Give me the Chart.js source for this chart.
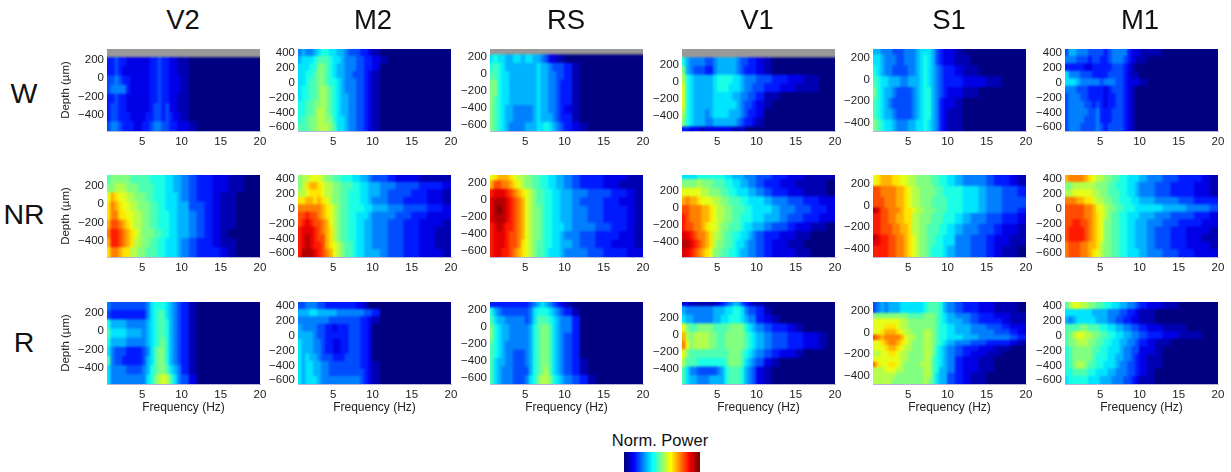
<!DOCTYPE html>
<html lang="en">
<head>
<meta charset="UTF-8">
<title>Norm. Power by depth and frequency</title>
<script src="https://cdn.jsdelivr.net/npm/chart.js"></script>
<style>
    html, body { margin: 0; padding: 0; background: #fff; }
    body { position: relative; width: 1231px; height: 472px; overflow: hidden; font-family: "Liberation Sans", Arial, sans-serif; color: #111; }
    canvas { position: absolute; }
    .lbl { position: absolute; transform: translate(-50%, -50%); white-space: nowrap; }
    .head { font-size: 27.5px; }
    .side { font-size: 28.5px; }
    .bar { font-size: 16.5px; }
</style>
</head>
<body>
<script>
// column edges of the spectrograms (Hz): half Hz steps up to 10, then 1 Hz
const freqEdges = [0.5,1,1.5,2,2.5,3,3.5,4,4.5,5,5.5,6,6.5,7,7.5,8,8.5,9,9.5,10,11,12,13,14,15,16,17,18,19,20];
const freqTicks = [5,10,15,20];
const areas = ['V2','M2','RS','V1','S1','M1'];
const states = ['W','NR','R'];

// power levels 0-20, rows go top to bottom, missing columns are 0, null = no recording
const v2W = [
 null,
 [3,3,4,3,3,2,2,2,2,2,2,3,3,4,3,3,2,2,1,1],
 [3,3,4,3,2,2,2,2,2,2,2,3,3,4,3,3,2,2,1,1],
 [4,4,5,4,3,3,2,2,2,2,2,3,3,4,3,3,2,2,2,1],
 [4,5,5,5,5,3,2,2,2,2,2,3,3,4,3,3,2,2,2,1],
 [3,3,4,3,3,2,2,2,2,2,2,3,3,4,3,3,2,2,1,1],
 [3,4,4,3,3,2,2,2,2,2,2,3,4,4,3,4,2,2,1,1],
 [3,4,4,3,3,3,2,2,2,2,3,3,4,4,3,4,3,2,2,1],
 [4,5,5,4,3,3,3,2,2,3,3,4,5,5,4,4,3,3,2,2,1]
];
const m2W = [
 [5,6,5,5,6,7,8,8,7,7,6,6,5,4,4,4,3,3,2,1],
 [6,7,7,7,8,9,9,9,8,7,7,6,5,5,5,4,4,3,3,2,1],
 [7,7,7,8,8,10,10,9,8,7,6,6,5,5,5,4,4,3,3,2],
 [7,7,8,8,9,10,10,9,8,7,6,6,5,5,4,4,4,3,2,1],
 [7,7,8,9,9,10,10,9,8,8,7,6,5,5,5,4,4,3,2,1],
 [7,8,8,9,9,10,11,10,9,8,7,6,5,5,5,4,4,3,2,1],
 [7,8,8,9,9,10,11,10,9,8,7,6,6,5,5,4,4,3,2,1],
 [8,8,9,9,10,10,11,10,9,8,7,6,6,5,5,4,4,3,2,1],
 [8,8,9,9,10,11,11,10,9,8,7,6,6,5,5,4,4,3,2,1],
 [8,9,9,10,10,11,11,10,10,8,7,7,6,5,5,4,4,3,2,1],
 [9,9,9,10,10,11,11,11,10,9,7,7,6,5,5,4,4,3,2,1]
];
const rsW = [
 null,
 [7,8,7,7,6,6,7,7,6,7,7,6,6,5,4,2,2,1,1],
 [8,9,8,7,6,6,6,6,6,6,6,6,7,6,6,5,4,4,4,3,1],
 [9,9,8,7,7,6,6,6,6,6,6,6,7,6,6,5,5,4,4,3,1],
 [10,10,8,7,7,6,6,6,6,6,6,6,7,6,6,5,5,4,3,3,1],
 [10,10,8,7,7,6,6,6,6,6,6,6,7,6,6,5,5,4,3,3,1],
 [10,9,8,7,7,6,6,6,6,6,6,6,7,6,6,5,5,4,3,3,1],
 [10,9,8,7,6,6,5,5,5,5,5,6,7,6,6,5,5,4,3,2,1],
 [10,9,8,7,6,6,5,5,5,5,5,6,7,6,6,6,5,4,3,3,1],
 [10,9,8,7,6,5,5,5,5,6,6,6,7,7,8,7,6,5,4,3,2,1]
];
const v1W = [
 null,
 [8,6,5,5,5,5,4,4,5,6,6,6,6,6,5,4,4,3,3,2,1],
 [10,6,5,4,4,4,3,3,5,6,6,6,6,6,5,4,3,3,3,2,1],
 [11,8,7,6,6,6,6,6,7,8,8,8,8,7,7,6,5,5,5,4,4,3,3,2,2,1,1],
 [12,8,7,6,6,6,6,6,7,8,8,8,7,7,7,6,5,5,4,4,3,3,2,2,1,1,1],
 [12,8,7,6,6,6,6,6,7,7,7,7,7,6,6,5,5,4,4,3,1,1],
 [12,8,7,6,6,6,6,6,7,7,7,7,7,7,6,5,4,4,3,2,1],
 [11,8,7,6,6,6,5,6,7,7,7,7,6,6,6,5,4,3,3,2],
 [10,8,7,6,6,6,5,5,6,6,6,6,6,6,5,4,3,3,2,1],
 [3,3,2,2,2,1,2,2,2,2,2,2,2,1,1,2]
];
const s1W = [
 [6,6,5,5,5,4,4,4,5,5,5,6,7,7,7,6,4,3,2,2,1],
 [7,7,6,5,5,5,4,4,5,5,5,6,7,8,7,6,4,3,2,2,1,1],
 [8,7,6,5,5,4,4,4,4,5,5,6,7,8,7,6,5,4,3,3,2,1,1],
 [9,8,7,7,6,6,6,5,5,6,6,6,7,8,7,6,5,4,3,3,3,2,2,2,1,1],
 [10,8,7,6,6,5,4,4,4,4,5,6,7,8,8,6,5,4,3,2,2,1,1],
 [9,8,7,6,5,4,4,4,4,4,5,6,7,8,8,6,5,3,2,2,1],
 [9,8,7,6,6,5,4,4,4,4,5,6,7,8,8,6,5,3,2,1,1],
 [10,9,8,7,7,6,5,5,5,6,6,7,7,8,7,6,5,3,2,1,1]
];
const m1W = [
 [4,6,6,5,5,5,4,4,4,4,3,4,5,5,5,5,3,2,2,1,1,1],
 [5,5,5,4,4,4,3,4,4,3,3,4,5,5,5,4,3,2,1,1],
 [3,3,3,3,3,2,2,3,3,3,3,3,4,4,4,3,2,1],
 [7,5,5,5,4,4,4,3,3,3,3,4,4,4,4,3,2,1,1],
 [7,7,7,6,5,5,5,5,5,4,5,5,5,4,4,3,2,2,2,1],
 [5,5,5,4,4,4,3,3,3,3,2,3,4,4,4,3,2,1],
 [4,5,5,5,4,4,3,3,3,3,2,3,3,4,4,3,2,1],
 [4,5,5,5,5,4,4,3,4,3,2,3,3,4,4,3,2,1],
 [4,5,5,5,5,5,4,4,5,3,3,3,4,4,4,3,2,1],
 [4,5,5,5,5,4,4,4,5,3,3,3,4,4,4,3,2,1],
 [4,5,5,5,4,4,4,4,5,4,3,4,4,4,4,3,2,1]
];

const v2NR = [
 [9,10,10,10,10,10,9,9,9,9,9,8,8,8,8,7,7,6,6,5,4,3,3,2,2,1,1],
 [10,10,11,11,11,10,10,10,9,9,9,9,8,8,8,7,7,6,6,5,4,3,3,2,2,1,1],
 [12,14,13,12,12,11,11,10,10,10,9,9,8,8,8,7,7,7,6,5,4,3,3,2,1,1],
 [13,15,14,13,12,12,11,11,10,10,10,9,9,8,8,7,7,7,6,6,4,4,3,2,1,1],
 [13,15,15,13,13,12,12,11,11,10,10,9,9,8,8,8,7,7,6,6,5,4,3,2,1,1],
 [14,16,16,15,14,13,12,11,11,10,10,9,9,8,8,8,7,7,6,6,5,4,3,2,1,1],
 [15,17,17,16,15,14,13,12,11,10,10,10,9,9,8,8,7,7,6,6,5,4,3,2,1],
 [14,17,17,16,15,14,13,11,11,10,10,9,9,8,8,7,7,7,6,5,4,3,3,2,1,1],
 [13,15,15,14,13,13,11,11,10,10,9,9,9,8,8,7,7,7,6,5,4,3,3,3,2,1]
];
const m2NR = [
 [10,11,11,12,12,12,11,10,10,9,9,8,8,8,7,7,6,6,5,4,4,3,2,2,2,1,1,1,1],
 [10,11,13,14,14,13,12,11,11,10,10,9,9,9,8,8,7,7,6,6,5,5,4,4,4,3,3,3,2],
 [11,11,12,13,13,13,12,11,11,10,10,9,9,8,8,8,7,7,6,6,5,4,4,4,3,3,2,2,1],
 [13,13,14,14,13,14,13,12,11,10,10,9,9,8,8,8,7,7,6,5,5,4,4,3,3,3,2,2,1],
 [15,15,15,15,15,15,14,13,12,11,10,9,9,8,8,8,8,7,7,6,6,5,5,4,4,4,3,3,2],
 [16,16,17,16,16,15,14,13,12,11,10,9,9,8,8,7,7,7,6,5,5,5,4,4,3,3,2,2,2],
 [16,17,18,17,16,16,15,14,12,11,10,9,9,8,8,7,7,6,6,5,5,4,4,3,3,2,2,2,1],
 [17,18,18,18,17,16,15,14,13,11,10,9,9,8,8,7,7,6,6,5,5,4,4,3,3,2,2,1,1],
 [17,18,19,18,17,16,16,14,13,11,10,9,9,8,8,7,7,6,6,5,5,4,4,3,3,2,2,1,1],
 [17,18,19,18,17,17,16,14,13,12,11,10,9,9,8,7,7,6,6,5,5,4,4,3,3,2,2,1,1],
 [17,19,19,19,18,17,16,15,14,12,11,10,9,9,8,7,7,6,6,6,5,4,4,3,3,2,2,2,1]
];
const rsNR = [
 [12,13,14,14,14,13,12,11,11,10,10,9,9,8,8,7,7,6,6,5,4,3,3,3,2,2,2,1,1],
 [14,16,16,15,15,14,13,12,11,10,10,9,9,8,8,7,7,6,6,5,4,3,3,3,2,2,1,1,1],
 [17,18,18,18,17,16,15,14,13,12,11,10,9,9,8,8,7,7,6,6,5,5,4,4,4,3,3,2,1],
 [18,19,19,19,18,17,16,15,14,12,11,10,9,9,8,8,7,7,6,6,5,4,4,4,3,3,2,2,1],
 [18,19,20,19,18,17,16,15,14,12,11,10,10,9,8,8,7,7,6,6,5,5,4,4,3,3,3,2,1],
 [18,19,19,19,18,17,16,15,14,12,11,10,10,9,8,8,7,7,6,6,5,5,4,4,3,3,3,2,1],
 [17,18,19,18,17,17,16,15,14,12,11,10,10,9,8,8,7,7,7,6,5,5,5,4,4,3,3,2,1],
 [17,18,18,18,17,16,16,15,14,12,11,10,10,9,8,8,7,7,6,5,5,4,4,3,3,3,2,2,1],
 [17,18,18,18,17,16,16,15,13,12,11,10,9,9,8,8,7,7,6,6,5,4,4,3,3,2,2,2,1],
 [17,18,18,17,17,16,15,14,13,12,11,10,9,9,8,7,7,7,6,5,5,5,4,4,3,3,3,2,2]
];
const v1NR = [
 [7,7,7,7,8,8,8,8,8,8,8,7,7,6,6,6,5,5,5,4,4,3,3,2,2,1,1,1,1],
 [10,10,10,10,11,10,10,10,9,9,9,8,8,7,7,6,6,5,5,4,3,3,2,2,1,1,1,1],
 [12,12,12,12,12,11,11,10,10,10,9,9,8,8,7,7,7,6,6,5,4,3,3,2,2,1,1,1],
 [14,15,14,14,13,12,12,12,11,11,10,10,9,9,9,8,8,7,7,7,6,5,5,4,4,3,3,2,2],
 [16,16,15,15,15,14,14,13,12,11,11,10,10,9,9,9,8,8,7,7,7,6,5,5,4,4,3,3,2],
 [17,16,15,15,15,14,14,13,12,11,11,10,10,9,9,8,8,8,7,7,6,6,5,4,4,3,3,2,2],
 [17,16,16,15,15,14,13,12,12,11,10,10,9,9,9,8,7,7,6,6,5,4,4,3,2,2,1,1],
 [18,18,17,16,15,15,14,13,11,11,10,9,9,8,8,7,7,6,5,4,3,3,2,2,1,1],
 [19,19,18,17,16,15,14,13,11,10,10,9,9,8,7,7,6,5,5,4,3,2,2,1,1],
 [18,18,17,16,15,14,13,12,10,10,9,9,8,8,7,6,6,5,5,4,3,2,2,2,1,1]
];
const s1NR = [
 [12,13,14,14,14,13,13,12,12,11,11,10,10,10,10,9,9,8,8,7,6,5,5,5,4,3,3,2,1],
 [12,13,14,14,14,13,13,12,12,11,11,10,10,10,10,9,9,8,8,7,6,5,5,5,4,3,3,2,1],
 [12,13,14,14,14,13,13,12,12,11,11,10,10,10,10,9,9,8,8,7,6,5,5,5,4,3,3,2,1],
 [16,16,15,15,15,15,14,14,13,12,11,11,10,10,10,10,9,9,8,8,8,7,7,6,5,5,4,4,3],
 [16,16,15,15,15,15,14,14,13,12,11,11,10,10,10,10,9,9,8,8,8,7,7,6,5,5,4,4,3],
 [16,16,16,15,15,15,14,14,13,12,11,11,10,10,10,9,9,9,9,8,8,7,7,6,5,5,4,4,4],
 [16,16,16,15,15,15,14,14,13,12,11,11,10,10,10,9,9,9,9,8,8,7,7,6,5,5,4,4,4],
 [19,18,16,16,15,15,15,14,13,13,12,11,11,10,10,10,9,9,9,8,8,7,7,6,5,5,4,4,3],
 [17,17,16,16,15,15,14,14,13,13,11,11,10,10,10,9,9,9,8,8,7,6,5,5,4,4,3,3,2],
 [17,17,16,16,15,15,14,14,13,13,11,11,10,10,10,9,9,9,8,8,7,6,5,5,4,4,3,3,2],
 [17,17,16,16,16,15,15,14,14,13,11,11,10,10,9,9,9,8,8,7,6,5,5,4,4,3,2,2,1],
 [17,17,16,16,16,15,15,14,14,13,11,11,10,10,9,9,9,8,8,7,6,5,5,4,4,3,2,2,1],
 [19,18,17,17,16,16,15,15,14,13,12,11,10,10,9,9,8,8,7,7,5,5,4,4,3,2,2,1,1],
 [18,18,17,17,16,16,15,15,14,13,12,11,10,10,9,9,8,8,7,7,5,5,4,4,3,2,2,1,1],
 [17,17,17,17,16,16,15,15,14,13,12,11,10,10,9,8,8,8,7,6,5,5,4,4,3,2,1,1],
 [17,17,17,17,16,16,15,15,14,13,12,11,10,10,9,8,8,8,7,6,5,5,4,4,3,2,1,1]
];
const m1NR = [
 [14,15,15,15,15,14,13,12,11,11,10,10,9,9,8,8,7,7,7,6,5,5,4,4,3,3,3,2,1],
 [10,10,11,11,11,11,11,11,10,10,10,9,9,8,8,8,7,7,6,5,5,4,4,3,3,3,2,2,1],
 [11,11,12,12,12,12,12,11,11,10,10,9,9,9,8,8,7,7,6,5,5,4,4,3,3,3,2,2,1],
 [15,15,15,14,14,13,13,12,11,11,10,10,9,9,8,8,8,7,7,6,6,5,5,5,4,4,3,3,3],
 [16,16,16,16,16,15,15,14,12,12,11,10,10,9,9,8,8,8,7,7,7,7,6,6,6,5,5,5,4],
 [16,16,16,16,16,15,15,14,13,12,11,10,9,9,8,8,7,7,7,6,6,5,5,4,4,4,3,3,2],
 [16,16,17,17,16,16,15,14,13,12,10,10,9,9,8,8,7,7,6,6,5,5,4,4,3,3,3,2,2],
 [16,17,17,17,17,16,15,14,13,12,10,10,9,9,8,8,7,7,6,6,5,4,4,3,3,2,2,2,1],
 [16,17,17,17,17,16,15,14,13,12,10,10,9,9,8,8,7,7,6,6,5,4,4,3,3,2,2,1,1],
 [15,16,16,16,15,15,14,14,13,11,10,10,9,9,8,8,7,7,6,6,5,4,4,3,3,2,2,2,1],
 [15,16,16,16,15,15,14,13,12,11,10,10,9,9,8,8,7,7,7,6,5,5,4,4,3,3,2,2,2]
];

const v2R = [
 [5,4,4,4,4,4,4,4,4,4,5,7,8,8,8,7,6,5,4,3,1],
 [4,3,3,3,3,3,3,3,3,3,5,7,8,9,9,7,6,5,4,3,1],
 [8,6,6,6,6,5,5,5,5,5,6,7,8,9,9,8,6,5,4,3,1],
 [9,7,7,7,7,6,6,6,6,5,6,7,8,9,9,8,6,5,4,3,1],
 [8,6,6,6,6,5,5,5,5,5,6,7,8,9,10,8,6,5,4,3,1],
 [7,5,4,4,4,3,3,3,3,4,5,7,9,10,10,8,6,5,4,3,1],
 [9,5,4,4,3,3,3,3,3,4,6,7,9,10,10,8,6,5,4,3,1],
 [7,5,5,5,5,4,4,4,4,5,6,8,9,10,10,9,7,6,5,3,1],
 [7,5,5,5,5,5,5,5,5,5,7,8,10,11,12,11,9,7,5,4,2]
];
const m2R = [
 [4,4,5,5,5,4,4,3,3,3,3,3,3,3,3,2,2,1],
 [6,6,6,7,7,6,6,6,6,6,5,5,5,5,5,5,5,4,4,3],
 [5,5,5,5,5,5,5,5,4,4,4,4,4,4,4,4,3,3,2,1],
 [6,5,5,5,5,4,4,3,3,2,3,3,3,4,4,4,3,3,2],
 [6,6,6,6,5,4,4,3,3,3,3,3,3,4,4,4,3,3,2],
 [7,6,6,6,5,5,4,3,3,2,2,3,3,4,4,4,3,3,2],
 [7,6,6,6,5,5,4,3,3,2,2,3,3,4,4,4,3,3,2],
 [7,6,7,6,6,5,4,4,4,3,3,3,4,4,4,4,3,3,2],
 [7,6,7,7,6,6,5,5,4,4,4,4,4,4,4,4,3,3,2,1],
 [7,6,7,7,6,6,5,5,4,4,4,4,4,4,4,4,4,3,2,1],
 [7,6,7,7,7,6,5,5,5,5,5,5,5,5,5,5,4,3,2,1]
];
const rsR = [
 [3,3,3,3,3,3,3,3,3,3,4,5,6,7,6,5,4,3,2,1],
 [8,6,5,4,4,4,4,4,4,4,5,7,8,8,8,7,6,5,4,3,1],
 [9,7,6,6,5,5,5,5,5,4,5,7,9,9,9,8,7,6,5,5,3],
 [10,8,7,6,6,5,5,5,5,5,6,8,9,10,10,9,7,6,5,5,3],
 [10,8,7,6,6,5,5,5,5,5,6,8,9,10,10,9,7,6,5,4,3],
 [9,8,7,6,5,5,5,5,5,5,6,8,9,10,10,9,7,6,5,4,3],
 [9,8,7,6,5,5,4,4,4,5,6,8,9,10,10,9,7,6,5,4,3],
 [9,7,6,6,5,5,4,4,4,5,6,8,9,10,10,9,7,6,5,4,3,1],
 [9,7,6,5,5,5,4,4,4,4,6,8,9,10,11,9,7,6,5,4,3,1],
 [9,7,6,5,5,5,4,4,4,5,7,8,10,11,11,10,8,7,6,5,4,3,1]
];
const v1R = [
 [2,2,1,1,1,1,1,1,1,2,3,4,5,6,6,4,3,2,1,1],
 [6,5,5,5,5,5,5,5,6,6,6,7,7,8,8,7,5,4,4,3,1],
 [7,6,6,5,5,5,5,5,6,6,7,7,8,8,8,7,6,5,5,3,2,1],
 [12,10,9,9,10,10,10,10,9,9,9,9,10,10,10,10,8,7,6,5,4,3,3,2,1],
 [14,11,10,11,11,11,11,10,10,9,9,10,10,10,10,10,9,8,7,6,5,4,4,3,3,2,2,1],
 [15,12,10,11,11,11,11,10,10,9,9,10,10,10,10,10,9,8,7,6,5,4,4,3,3,2,2,1],
 [12,10,9,9,9,9,9,9,9,9,9,9,10,10,10,9,8,7,6,5,4,3,2,2,1],
 [11,9,9,9,8,8,8,8,8,8,8,9,10,10,10,9,7,6,5,4,2,1],
 [9,7,5,5,4,4,4,4,4,5,6,8,9,9,9,8,6,5,4,2,1],
 [9,7,6,6,5,5,5,6,6,6,6,8,9,9,9,8,6,5,4,2,1]
];
const s1R = [
 [4,5,6,5,6,6,6,7,7,7,7,7,7,8,9,9,9,8,6,5,4,3,3,2,2,1,1,1],
 [4,5,6,5,6,6,6,7,7,7,7,7,7,8,9,9,9,8,6,5,4,3,3,2,2,1,1,1],
 [4,5,6,5,6,6,6,7,7,7,7,7,7,8,9,9,9,8,6,5,4,3,3,2,2,1,1,1],
 [10,10,10,10,10,10,10,10,10,9,9,9,9,10,10,10,9,8,7,6,5,5,4,3,3,2,2,1,1],
 [12,12,12,12,12,12,12,11,11,10,10,10,10,10,10,10,9,8,7,6,6,5,4,3,3,3,2,1,1],
 [12,12,12,13,13,13,12,11,11,10,10,10,10,10,10,10,9,8,8,7,6,6,5,5,4,4,3,2,2],
 [12,12,13,14,14,14,13,12,11,11,10,10,10,11,11,10,9,8,8,7,6,6,5,5,5,4,4,3,2],
 [16,15,14,15,15,15,15,14,12,11,11,10,10,11,11,10,9,8,8,7,7,6,6,5,5,5,5,4,3],
 [12,12,13,14,15,15,14,13,12,11,10,10,10,11,11,10,9,8,7,6,5,5,4,4,3,3,3,2,1],
 [12,12,12,13,14,14,13,12,11,11,10,10,10,11,11,10,8,7,6,5,4,3,3,2,2,1,1],
 [11,11,12,12,13,13,12,11,11,10,10,10,10,11,11,10,8,7,6,5,4,3,2,2,1,1],
 [12,12,12,12,12,12,12,11,11,10,10,10,10,11,11,9,8,7,6,5,3,2,2,1,1],
 [15,13,12,12,13,13,12,11,10,10,10,10,11,11,11,9,8,7,6,5,3,2,2,1,1],
 [11,11,11,12,12,12,11,11,10,10,10,10,10,11,11,9,8,6,6,5,3,2,2,1,1],
 [11,11,11,11,11,11,10,10,10,10,10,10,10,11,11,9,7,6,6,4,3,2,1,1],
 [11,11,11,11,11,10,10,10,10,10,10,10,10,11,10,9,7,6,6,4,3,2,1,1]
];
const m1R = [
 [9,11,12,12,11,11,10,10,9,9,8,8,7,7,6,6,5,5,4,3,2,2,1,1],
 [7,7,7,7,7,7,7,6,6,6,6,5,5,5,4,4,3,3,2,1,1],
 [6,5,6,7,7,7,7,7,6,6,6,5,5,4,4,3,3,2,2,1,1],
 [9,9,9,9,10,10,9,9,9,8,8,7,7,6,6,5,5,4,4,3,2,2,1,1,1],
 [9,10,11,12,12,11,11,10,10,9,9,8,8,7,7,6,6,5,5,4,3,3,2,2,1,1,1],
 [9,10,10,11,11,11,10,10,9,9,8,8,7,7,6,6,5,5,4,3,2,1,1],
 [8,9,10,10,10,10,10,9,9,8,8,7,7,7,6,5,5,4,4,2,2,1],
 [8,9,10,10,10,10,10,9,8,8,8,7,7,6,6,5,5,4,3,2,1,1],
 [8,9,10,11,11,10,9,9,8,8,7,7,7,6,5,5,4,4,3,2,1,1],
 [8,8,9,9,9,9,8,8,7,7,7,6,6,5,5,5,4,4,3,2,1],
 [7,8,8,8,8,8,7,7,7,6,6,6,5,5,5,4,4,3,2,1,1]
];

const colorbarLevels = [0,0.5,1,1.5,2,2.5,3,3.5,4,4.5,5,5.5,6,6.5,7,7.5,8,8.5,9,9.5,10,10.5,11,11.5,12,12.5,13,13.5,14,14.5,15,15.5,16,16.5,17,17.5,18,18.5,19,19.5,20];

// depth axis of each area: visible range and tick labels
const depthRange = { V2:[-575,320], M2:[-650,450], RS:[-675,295], V1:[-570,378], S1:[-475,280], M1:[-650,450] };
const depthTicks = {
    V2:[200,0,-200,-400],
    M2:[400,200,0,-200,-400,-600],
    RS:[200,0,-200,-400,-600],
    V1:[200,0,-200,-400],
    S1:[200,0,-200,-400],
    M1:[400,200,0,-200,-400,-600]
};

// [rows, top edge of first row, row height in um]
const panels = {
    V2:{ W:[v2W,325,100], NR:[v2NR,325,100], R:[v2R,325,100] },
    M2:{ W:[m2W,450,100], NR:[m2NR,450,100], R:[m2R,450,100] },
    RS:{ W:[rsW,325,100], NR:[rsNR,325,100], R:[rsR,325,100] },
    V1:{ W:[v1W,375,100], NR:[v1NR,425,100], R:[v1R,425,100] },
    S1:{ W:[s1W,325,100], NR:[s1NR,325,50], R:[s1R,325,50] },
    M1:{ W:[m1W,450,100], NR:[m1NR,450,100], R:[m1R,450,100] }
};

// layout in pixels
const plotLeft = [107,298,490,682,873,1065];
const plotTop = [49,175,302];
const plotW = 153, plotH = 82;
const FONT = '"Liberation Sans", Arial, sans-serif';

function jet(level) {
    const v = level / 20;
    const c = d => Math.round(255 * Math.min(1, Math.max(0, 1.5 - Math.abs(4 * v - d))));
    return `rgb(${c(3)},${c(2)},${c(1)})`;
}

// the original image is soft, so smear the finished cells a little
const softenCells = {
    id: 'softenCells',
    afterDatasetsDraw(chart) {
        const { left, top, width, height } = chart.chartArea;
        const ctx = chart.ctx;
        ctx.save();
        ctx.beginPath();
        ctx.rect(left, top, width, height);
        ctx.clip();
        ctx.filter = 'blur(1.3px)';
        ctx.drawImage(chart.canvas, left, top, width, height, left, top, width, height);
        ctx.restore();
    }
};

function addCanvas(left, top, w, h) {
    const canvas = document.createElement('canvas');
    canvas.width = w;
    canvas.height = h;
    canvas.style.left = left + 'px';
    canvas.style.top = top + 'px';
    document.body.appendChild(canvas);
    return canvas;
}

function addLabel(text, x, y, cls) {
    const el = document.createElement('div');
    el.className = 'lbl ' + cls;
    el.textContent = text;
    el.style.left = x + 'px';
    el.style.top = y + 'px';
    document.body.appendChild(el);
}

function noPadding(s) {
    s.paddingTop = s.paddingBottom = s.paddingLeft = s.paddingRight = 0;
}

function drawPanel(area, state, col, row) {
    const [rows, top, step] = panels[area][state];
    const cells = [], colors = [];
    rows.forEach((levels, r) => {
        for (let i = 0; i < freqEdges.length - 1; i++) {
            cells.push({ x: [freqEdges[i], freqEdges[i + 1]], y: top - (r + 0.5) * step });
            // an empty row is a depth without recording, it stays grey
            colors.push(levels ? jet(levels[i] || 0) : '#999999');
        }
    });

    const bottomRow = row === 2;
    const axisH = bottomRow ? 36 : 18;
    const canvas = addCanvas(plotLeft[col] - 50, plotTop[row] - 8, 50 + plotW + 12, 8 + plotH + axisH);
    const tickFont = { family: FONT, size: 11.5 };

    new Chart(canvas, {
        type: 'bar',
        plugins: [softenCells],
        data: { datasets: [{ data: cells, backgroundColor: colors, borderWidth: 0, inflateAmount: 0.5,
            grouped: false, barPercentage: 1, categoryPercentage: 1 }] },
        options: {
            indexAxis: 'y',
            responsive: false,
            animation: false,
            events: [],
            layout: { padding: { top: 8, right: 12, left: 0, bottom: 0 } },
            plugins: { legend: { display: false }, tooltip: { enabled: false } },
            scales: {
                x: {
                    type: 'linear',
                    min: 0.5,
                    max: 20,
                    grid: { display: false, drawTicks: false },
                    border: { color: '#b4b6dc' },
                    afterBuildTicks: s => { s.ticks = freqTicks.map(v => ({ value: v })); },
                    afterFit: s => { s.height = axisH; noPadding(s); },
                    ticks: { color: '#222', font: tickFont, padding: 4, maxRotation: 0, autoSkip: false },
                    title: { display: bottomRow, text: 'Frequency (Hz)', color: '#222',
                        font: { family: FONT, size: 12 }, padding: { top: 0, bottom: 5 } }
                },
                y: {
                    type: 'linear',
                    offset: false,
                    min: depthRange[area][0],
                    max: depthRange[area][1],
                    grid: { display: false, drawTicks: false },
                    border: { color: '#b4b6dc' },
                    afterBuildTicks: s => { s.ticks = depthTicks[area].map(v => ({ value: v })); },
                    afterFit: s => { s.width = 50; noPadding(s); },
                    ticks: { color: '#222', font: tickFont, padding: 3, autoSkip: false,
                        callback: v => String(v).replace('-', '\u2212') },
                    title: { display: col === 0, text: 'Depth (\u00b5m)', color: '#222',
                        font: { family: FONT, size: 11.5 }, padding: { top: 2, bottom: 0 } }
                }
            }
        }
    });
}

function drawColorbar() {
    const canvas = addCanvas(624, 452, 76, 20);
    new Chart(canvas, {
        type: 'bar',
        data: { datasets: [{
            data: colorbarLevels.map((_, i) => ({ x: [i, i + 1], y: 0 })),
            backgroundColor: colorbarLevels.map(jet),
            borderWidth: 0, inflateAmount: 0.5, grouped: false, barPercentage: 1, categoryPercentage: 1 }] },
        options: {
            indexAxis: 'y',
            responsive: false,
            animation: false,
            events: [],
            plugins: { legend: { display: false }, tooltip: { enabled: false } },
            scales: {
                x: { type: 'linear', min: 0, max: colorbarLevels.length, display: false },
                y: { type: 'linear', offset: false, min: -1, max: 1, display: false }
            }
        }
    });
}

Chart.defaults.font.family = FONT;
areas.forEach((area, col) => {
    states.forEach((state, row) => drawPanel(area, state, col, row));
});
drawColorbar();

const headX = [183,373,566,757,949,1140];
const sideY = [93,214,342];
areas.forEach((a, i) => addLabel(a, headX[i], 20, 'head'));
states.forEach((s, i) => addLabel(s, 24, sideY[i], 'side'));
addLabel('Norm. Power', 660, 440, 'bar');
</script>
</body>
</html>
